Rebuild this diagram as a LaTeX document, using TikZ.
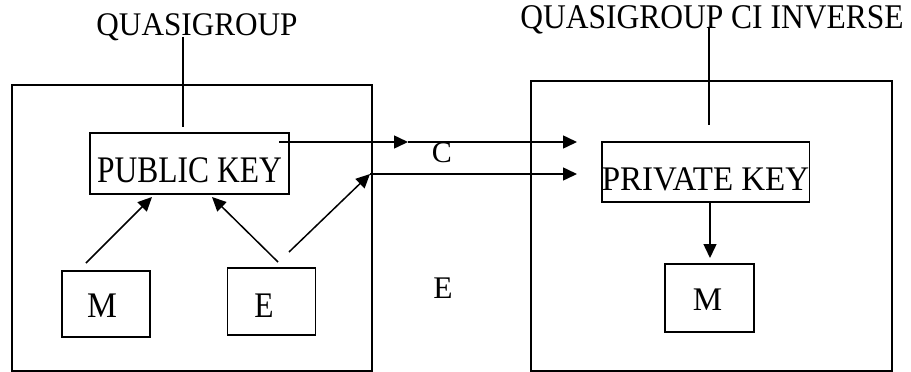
\documentclass[tikz,border=0pt]{standalone}
\usepackage{fontspec}
\setmainfont{Liberation Serif}
\usetikzlibrary{arrows.meta}
\newcommand\stretchtext[3]{\scalebox{#1}[#2]{#3}}
\begin{document}
\begin{tikzpicture}[x=1pt,y=-1pt,
  every node/.style={font=\fontsize{30}{36}\selectfont},
  frame/.style={draw,line width=1.5pt,inner sep=0pt},
  ln/.style={line width=1.5pt},
  arr/.style={ln,-{Triangle[length=14pt,width=13pt]}},
]
\useasboundingbox (0,0) rectangle (911,372);
\fill[white] (0,0) rectangle (911,372);
% big frames
\node[frame,minimum width=360pt,minimum height=286pt] (L) at (192,228) {};
\node[frame,minimum width=361pt,minimum height=290pt] (R) at (711.5,226) {};
% titles
\node[anchor=base,inner sep=0pt] (q1) at (197,35) {\stretchtext{1.04}{1.1}{QUASIGROUP}};
\node[anchor=base,inner sep=0pt,font=\fontsize{31.5}{36}\selectfont] (q2) at (712,28) {\stretchtext{1}{1.1}{QUASIGROUP CI INVERSE}};
% inner boxes
\node[frame,minimum width=199pt,text height=49pt,text depth=12pt] (pub) at (189.5,163.5) {\stretchtext{1.05}{1.25}{PUBLIC KEY}};
\node[frame,minimum width=88pt,text height=46pt,text depth=20pt] (m1) at (106,304) {\hspace*{-8pt}\stretchtext{1.12}{1.2}{M}};
\node[frame,minimum width=88pt,text height=49pt,text depth=18pt] (e1) at (271.5,301.5) {\hspace*{-15pt}\stretchtext{1.05}{1.2}{E}};
\node[frame,minimum width=207pt,text height=48pt,text depth=12pt] (priv) at (705.5,172) {\stretchtext{1.1}{1.15}{PRIVATE KEY}};
\node[frame,minimum width=89pt,text height=46pt,text depth=22pt] (m2) at (709.5,298) {\hspace*{-4pt}\stretchtext{1.1}{1.1}{M}};
% free labels
\node[anchor=base,inner sep=0pt] (c) at (442,162) {C};
\node[anchor=base,inner sep=0pt] (e2) at (443,298) {\stretchtext{1.05}{1.05}{E}};
% connector points
\coordinate (q1a) at (183,37);
\coordinate (q1b) at (183,127);
\coordinate (q2a) at (709,28);
\coordinate (q2b) at (709,125);
\coordinate (m1s) at (86,263);
\coordinate (pubin1) at (152,197);
\coordinate (e1s) at (278,262);
\coordinate (pubin2) at (212,197);
\coordinate (e1t) at (289,252);
\coordinate (J) at (370,174);
\coordinate (pubout) at (279,142);
\coordinate (mid) at (408,142);
\coordinate (privin1) at (577,142);
\coordinate (privin2) at (577,174);
\coordinate (privout) at (710,202);
\coordinate (m2in) at (710,258);
% connectors
\draw[ln] (q1a) -- (q1b);
\draw[ln] (q2a) -- (q2b);
\draw[arr] (m1s) -- (pubin1);
\draw[arr] (e1s) -- (pubin2);
\draw[arr] (e1t) -- (J);
\draw[arr] (pubout) -- (mid);
\draw[arr] (mid) -- (privin1);
\draw[arr] (J) -- (privin2);
\draw[arr] (privout) -- (m2in);
\end{tikzpicture}
\end{document}
